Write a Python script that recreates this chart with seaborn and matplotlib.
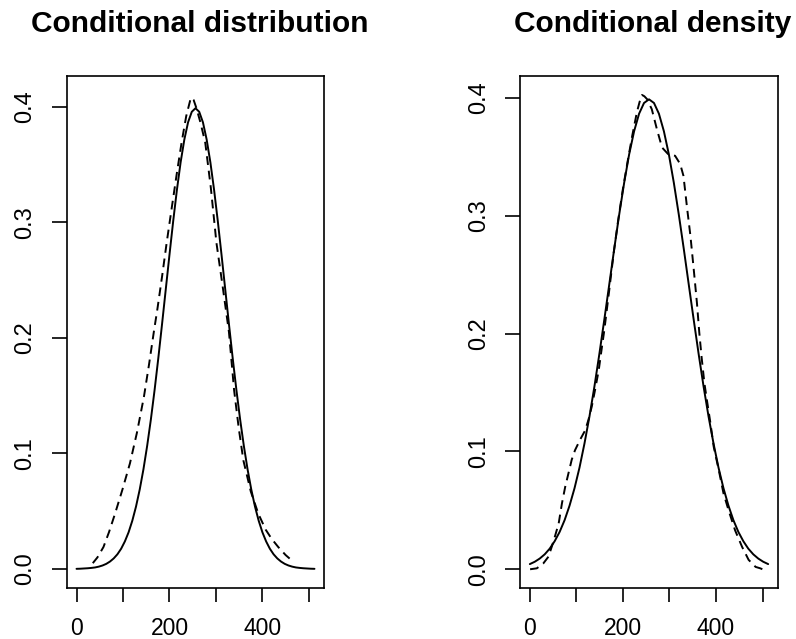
import numpy as np
import pandas as pd
import matplotlib
matplotlib.use("Agg")
import matplotlib.pyplot as plt
import seaborn as sns

# ---------------- data ----------------
# left panel, solid curve
left_solid_x = [0, 8, 16, 24, 32, 40, 48, 56, 64, 72, 80, 88, 96, 104, 112, 120,
                128, 136, 144, 152, 160, 168, 176, 184, 192, 200, 208, 216, 224, 232, 240, 248,
                256, 264, 272, 280, 288, 296, 304, 312, 320, 328, 336, 344, 352, 360, 368, 376,
                384, 392, 400, 408, 416, 424, 432, 440, 448, 456, 464, 472, 480, 488, 496, 504, 512]
left_solid_y = [0.0001, 0.0002, 0.0004, 0.0006, 0.0009, 0.0013, 0.0020, 0.0030, 0.0044, 0.0064,
                0.0091, 0.0127, 0.0175, 0.0238, 0.0317, 0.0417, 0.0540, 0.0688, 0.0863, 0.1066,
                0.1295, 0.1550, 0.1826, 0.2119, 0.2420, 0.2720, 0.3011, 0.3282, 0.3521, 0.3718,
                0.3867, 0.3958, 0.3989,
                0.3958, 0.3867, 0.3718, 0.3521, 0.3282, 0.3011, 0.2720, 0.2420, 0.2119, 0.1826,
                0.1550, 0.1295, 0.1066, 0.0863, 0.0688, 0.0540, 0.0417, 0.0317, 0.0238, 0.0175,
                0.0127, 0.0091, 0.0064, 0.0044, 0.0030, 0.0020, 0.0013, 0.0009, 0.0006, 0.0004,
                0.0002, 0.0001]

# left panel, dashed curve
left_dash_x = [35, 45, 58, 70, 83, 99, 115, 130, 145, 156, 167, 174, 184, 194, 205, 216,
               226, 236, 246, 252, 258, 267, 277, 289, 301, 315, 328, 339, 349, 359, 375,
               391, 407, 420, 434, 450, 467]
left_dash_y = [0.005, 0.010, 0.019, 0.032, 0.048, 0.069, 0.0915, 0.118, 0.149, 0.177, 0.207,
               0.225, 0.253, 0.2825, 0.313, 0.343, 0.369, 0.392, 0.408, 0.406, 0.399, 0.386,
               0.369, 0.330, 0.2825, 0.243, 0.205, 0.155, 0.122, 0.094, 0.067, 0.048, 0.034,
               0.026, 0.019, 0.012, 0.006]

# right panel, solid curve
right_solid_x = [0, 10.7, 21.3, 32, 42.7, 53.3, 64, 74.7, 85.3, 96, 106.7, 117.3, 128, 138.7,
                 149.3, 160, 170.7, 181.3, 192, 202.7, 213.3, 224, 234.7, 245.3, 256, 266.7,
                 277.3, 288, 298.7, 309.3, 320, 330.7, 341.3, 352, 362.7, 373.3, 384, 394.7,
                 405.3, 416, 426.7, 437.3, 448, 458.7, 469.3, 480, 490.7, 501.3, 512]
right_solid_y = [0.0044, 0.0064, 0.0091, 0.0127, 0.0175, 0.0238, 0.0317, 0.0417, 0.0540,
                 0.0688, 0.0863, 0.1066, 0.1295, 0.1550, 0.1826, 0.2119, 0.2420, 0.2720,
                 0.3011, 0.3282, 0.3521, 0.3718, 0.3867, 0.3958, 0.3989, 0.3958, 0.3867,
                 0.3718, 0.3521, 0.3282, 0.3011, 0.2720, 0.2420, 0.2119, 0.1826, 0.1550,
                 0.1295, 0.1066, 0.0863, 0.0688, 0.0540, 0.0417, 0.0317, 0.0238, 0.0175,
                 0.0127, 0.0091, 0.0064, 0.0044]

# right panel, dashed curve
right_dash_x = [0.6, 15, 29, 40, 47, 54, 62, 69, 76, 83, 90, 97, 108, 119, 126, 133, 140, 148,
                155, 160, 170, 180, 190, 200, 210, 220, 230, 236, 241, 246, 252, 262, 273, 284,
                298, 312, 323, 330, 338, 345, 352, 359, 364, 369, 375, 381, 388, 395, 406, 416,
                427, 441, 456, 470, 485, 495, 500]
right_dash_y = [0.0, 0.0008, 0.005, 0.0107, 0.019, 0.028, 0.039, 0.056, 0.070, 0.0815, 0.093,
                0.101, 0.110, 0.118, 0.127, 0.138, 0.152, 0.169, 0.189, 0.203, 0.235, 0.268,
                0.297, 0.323, 0.346, 0.368, 0.388, 0.397, 0.4026, 0.4015, 0.399, 0.3905,
                0.3735, 0.358, 0.352, 0.351, 0.344, 0.334, 0.306, 0.283, 0.255, 0.226, 0.201,
                0.180, 0.158, 0.142, 0.124, 0.104, 0.084, 0.0645, 0.050, 0.033, 0.019, 0.008,
                0.002, 0.0008, 0.0]

titles = ["Conditional distribution", "Conditional density"]
x_ticks = [0, 100, 200, 300, 400, 500]
x_tick_labels = ["0", "", "200", "", "400", ""]
y_ticks = [0.0, 0.1, 0.2, 0.3, 0.4]
y_tick_labels = ["0.0", "0.1", "0.2", "0.3", "0.4"]

# ---------------- style ----------------
sns.set_style("white")
plt.rcParams["font.family"] = ["Liberation Sans", "DejaVu Sans"]
plt.rcParams["text.color"] = "black"
plt.rcParams["xtick.color"] = "black"
plt.rcParams["ytick.color"] = "black"
plt.rcParams["axes.edgecolor"] = "black"

W, H = 796, 639
fig = plt.figure(figsize=(W / 100, H / 100), dpi=100)

panels = [
    dict(box=(67, 76, 324, 588), ylim=(-0.0165, 0.4268), title_x=200,
         solid=(left_solid_x, left_solid_y), dash=(left_dash_x, left_dash_y)),
    dict(box=(520.3, 76, 777.7, 588), ylim=(-0.0159, 0.4187), title_x=652.5,
         solid=(right_solid_x, right_solid_y), dash=(right_dash_x, right_dash_y)),
]

for p, title in zip(panels, titles):
    x0, y0, x1, y1 = p["box"]
    ax = fig.add_axes([x0 / W, 1 - y1 / H, (x1 - x0) / W, (y1 - y0) / H])
    sdf = pd.DataFrame({"x": p["solid"][0], "y": p["solid"][1]})
    ddf = pd.DataFrame({"x": p["dash"][0], "y": p["dash"][1]})
    sns.lineplot(data=sdf, x="x", y="y", ax=ax, color="black", linewidth=1.4,
                 estimator=None, sort=False)
    sns.lineplot(data=ddf, x="x", y="y", ax=ax, color="black", linewidth=1.4,
                 estimator=None, sort=False, dashes=False)
    ax.lines[-1].set_dashes([4.5, 3])
    ax.set_xlim(-20.48, 532.48)
    ax.set_ylim(*p["ylim"])
    ax.set_xlabel("")
    ax.set_ylabel("")
    ax.set_xticks(x_ticks)
    ax.set_xticklabels(x_tick_labels, fontsize=16.5, color="black")
    ax.set_yticks(y_ticks)
    ax.set_yticklabels(y_tick_labels, fontsize=17, rotation=90, va="center", color="black")
    ax.tick_params(axis="x", direction="out", length=10, width=1.2, pad=11,
                   bottom=True, colors="black")
    ax.tick_params(axis="y", direction="out", length=11, width=1.2, pad=11,
                   left=True, colors="black")
    for s in ax.spines.values():
        s.set_visible(True)
        s.set_color("black")
        s.set_linewidth(1.2)
    ax.grid(False)
    fig.text(p["title_x"] / W, 1 - 31.7 / H, title, ha="center", va="baseline",
             fontsize=21.5, fontweight="bold", color="black")

fig.savefig("out.png", dpi=100, facecolor="white")
